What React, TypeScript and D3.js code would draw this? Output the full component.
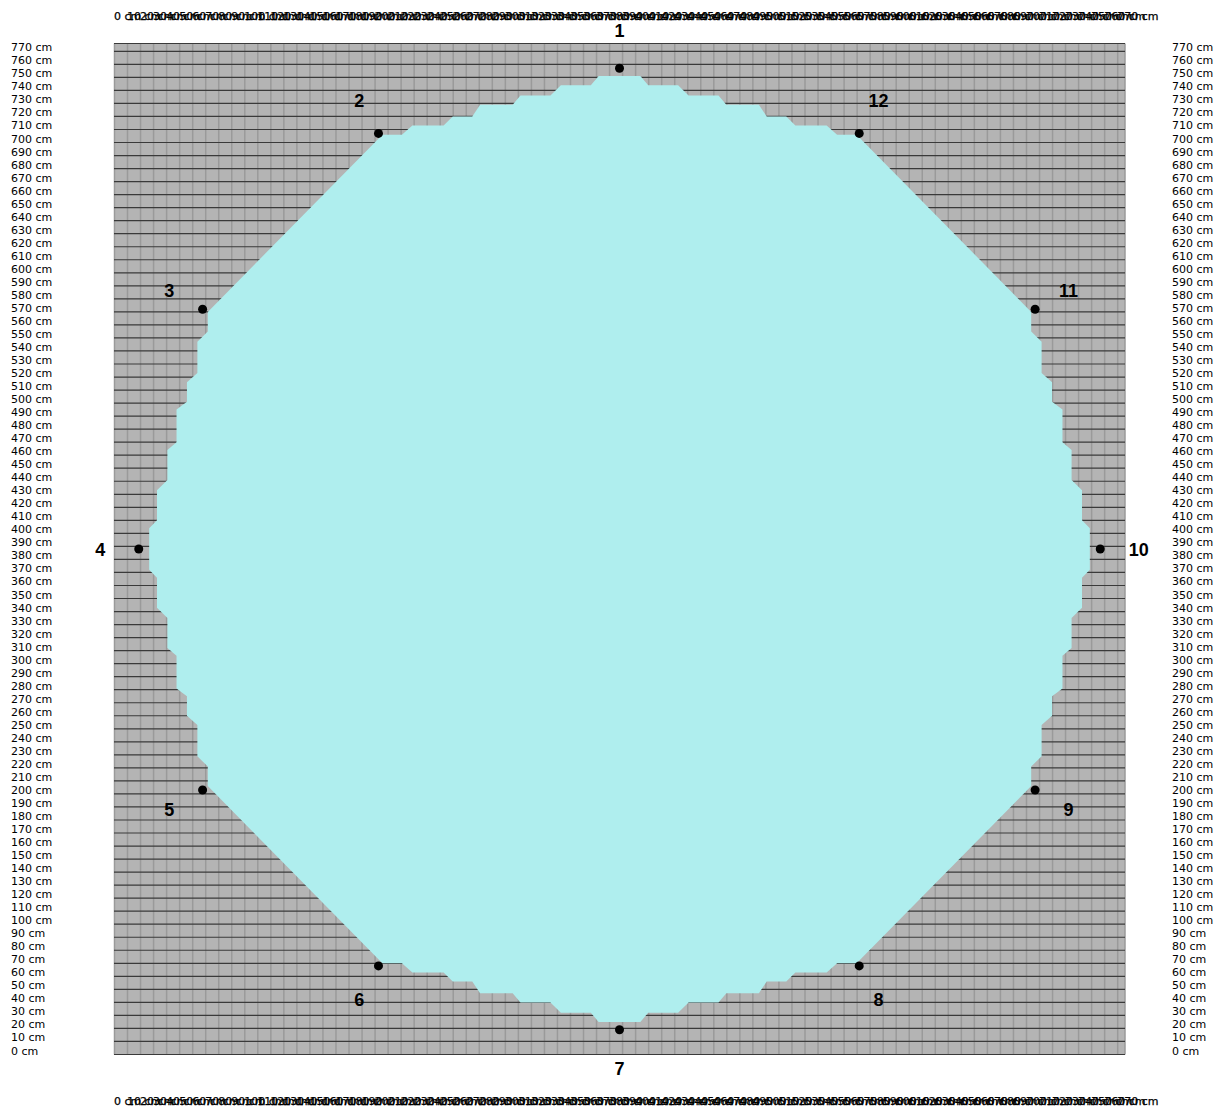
import React from 'react';
import * as d3 from 'd3';

const W = 1214;
const H = 1108;
const AXIS_MAX = 776;

// tick values (cm)
const yTicks: number[] = d3.range(0, 780, 10);
const xTicks: number[] = d3.range(0, 780, 10);

// measured corner points (cm)
const pointNames = ['1', '2', '3', '4', '5', '6', '7', '8', '9', '10', '11', '12'];
const pointX = [388, 203, 68, 19, 68, 203, 388, 572, 707, 757, 707, 572];
const pointY = [757, 707, 572, 388, 203, 68, 19, 68, 203, 388, 572, 707];

// floor outline (cm), clockwise from the top-left chord corner
const outlineTop: [number, number][] = [
  [206, 706], [221, 706], [229, 713], [253, 713], [260, 720], [275, 720], [281, 729], [306, 729],
  [312, 736], [335, 736], [343, 744], [366, 744], [372, 751], [404, 751], [410, 744], [433, 744],
  [441, 736], [464, 736], [470, 729], [495, 729], [501, 720], [516, 720], [523, 713], [547, 713],
  [555, 706], [570, 706],
];
const outlineRight: [number, number][] = [
  [704, 570], [704, 555], [712, 547], [712, 523], [720, 516], [720, 501], [728, 495], [728, 470],
  [735, 464], [735, 441], [743, 433], [743, 410], [749, 404], [749, 372], [743, 366], [743, 343],
  [735, 335], [735, 312], [728, 306], [728, 281], [720, 275], [720, 260], [712, 253], [712, 229],
  [704, 221], [704, 206],
];
const outlineBottom: [number, number][] = [
  [570, 70], [555, 70], [547, 63], [523, 63], [516, 56], [501, 56], [495, 47], [470, 47],
  [464, 40], [441, 40], [433, 32], [410, 32], [404, 25], [372, 25], [366, 32], [343, 32],
  [335, 40], [312, 40], [306, 47], [281, 47], [275, 56], [260, 56], [253, 63], [229, 63],
  [221, 70], [206, 70],
];
const outlineLeft: [number, number][] = [
  [72, 206], [72, 221], [64, 229], [64, 253], [56, 260], [56, 275], [48, 281], [48, 306],
  [41, 312], [41, 335], [33, 343], [33, 366], [27, 372], [27, 404], [33, 410], [33, 433],
  [41, 441], [41, 464], [48, 470], [48, 495], [56, 501], [56, 516], [64, 523], [64, 547],
  [72, 555], [72, 570],
];

const PLOT_L = 114;
const PLOT_R = 1125;
const PLOT_T = 43.5;
const PLOT_B = 1054.5;

export default function App() {
  const x = d3.scaleLinear().domain([0, AXIS_MAX]).range([PLOT_L, PLOT_R]);
  const y = d3.scaleLinear().domain([0, AXIS_MAX]).range([PLOT_B, PLOT_T]);
  const outline = [...outlineTop, ...outlineRight, ...outlineBottom, ...outlineLeft];
  const line = d3
    .line<[number, number]>()
    .x((d) => x(d[0]))
    .y((d) => y(d[1]))
    .curve(d3.curveLinearClosed);
  const cx = AXIS_MAX / 2;
  const cy = AXIS_MAX / 2;
  const tickFont = { fontFamily: 'DejaVu Sans', fontSize: 11, fill: '#000' } as const;

  return (
    <svg
      width={W}
      height={H}
      style={{ position: 'absolute', left: 0, top: 0, background: '#fff' }}
    >
      <rect x={PLOT_L} y={PLOT_T} width={PLOT_R - PLOT_L} height={PLOT_B - PLOT_T} fill="#b4b4b4" />
      {/* vertical grid */}
      {xTicks.map((t) => (
        <line key={'v' + t} x1={x(t) + 0.5} x2={x(t) + 0.5} y1={PLOT_T} y2={PLOT_B} stroke="#9a9a9a" strokeWidth={1.5} />
      ))}
      <line x1={PLOT_R} x2={PLOT_R} y1={PLOT_T} y2={PLOT_B} stroke="#9a9a9a" strokeWidth={1.5} />
      {/* horizontal grid */}
      {yTicks.map((t) => (
        <line key={'h' + t} x1={PLOT_L} x2={PLOT_R} y1={y(t)} y2={y(t)} stroke="#3a3a3a" strokeWidth={1.2} />
      ))}
      <line x1={PLOT_L} x2={PLOT_R} y1={PLOT_T} y2={PLOT_T} stroke="#3a3a3a" strokeWidth={1.2} />
      {/* floor */}
      <path d={line(outline) || ''} fill="#afeeee" stroke="none" />
      {/* points */}
      {pointNames.map((n, i) => {
        const px = x(pointX[i]);
        const py = y(pointY[i]);
        const a = Math.atan2(pointY[i] - cy, pointX[i] - cx);
        const lx = px + 38.5 * Math.cos(a);
        const ly = py - 38.5 * Math.sin(a) + 1;
        return (
          <g key={n}>
            <circle cx={px} cy={py} r={4.5} fill="#000" />
            <text
              x={lx}
              y={ly}
              textAnchor="middle"
              dominantBaseline="central"
              fontFamily="Liberation Sans, Arial, sans-serif"
              fontWeight="bold"
              fontSize={18}
              fill="#000"
            >
              {n}
            </text>
          </g>
        );
      })}
      {/* y labels */}
      {yTicks.map((t) => (
        <g key={'yl' + t}>
          <text x={11} y={y(t)} {...tickFont}>{`${t} cm`}</text>
          <text x={1172} y={y(t)} {...tickFont}>{`${t} cm`}</text>
        </g>
      ))}
      {/* x labels */}
      {xTicks.map((t) => (
        <g key={'xl' + t}>
          <text x={x(t)} y={19.5} {...tickFont} stroke="#000" strokeWidth={0.25}>{`${t} cm`}</text>
          <text x={x(t)} y={1104.5} {...tickFont} stroke="#000" strokeWidth={0.25}>{`${t} cm`}</text>
        </g>
      ))}
    </svg>
  );
}
